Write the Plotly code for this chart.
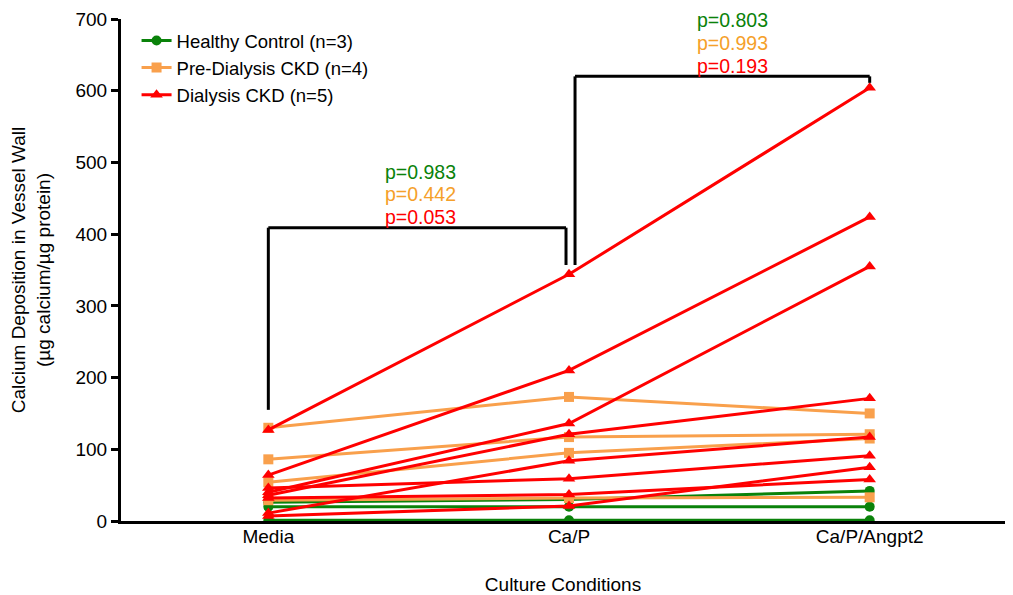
import plotly.graph_objects as go

conditions = ["Media", "Ca/P", "Ca/P/Angpt2"]
x_pos = [0, 1, 2]

healthy = [[1, 1, 1], [20, 20, 20], [26, 30, 42]]
predialysis = [[130, 173, 150], [86, 117, 121], [54, 95, 115], [29, 32, 33]]
dialysis = [[127, 344, 604], [64, 210, 424], [40, 136, 355], [36, 121, 171],
            [11, 84, 117], [46, 59, 91], [7, 21, 75], [32, 37, 58]]

groups = [
    ("Healthy Control (n=3)", healthy, "#0a820a", "circle", 10),
    ("Pre-Dialysis CKD (n=4)", predialysis, "#f9a04c", "square", 10),
    ("Dialysis CKD (n=5)", dialysis, "#ff0000", "triangle-up", 11),
]

pvals_1 = ["p=0.983", "p=0.442", "p=0.053"]
pvals_2 = ["p=0.803", "p=0.993", "p=0.193"]
pcolors = ["#0a820a", "#f5a02a", "#ff0000"]

FONT = "Liberation Sans, Arial, Helvetica, sans-serif"

fig = go.Figure()
for name, series, color, sym, msize in groups:
    for i, vals in enumerate(series):
        fig.add_trace(go.Scatter(
            x=x_pos, y=vals, mode="lines+markers", name=name,
            legendgroup=name, showlegend=(i == 0),
            line=dict(color=color, width=3),
            marker=dict(color=color, symbol=sym, size=msize),
        ))

# significance brackets
line_style = dict(color="black", width=3)
fig.add_shape(type="line", x0=0, x1=0, y0=155, y1=409, xref="x", yref="y", line=line_style)
fig.add_shape(type="line", x0=0, x1=0.99, y0=409, y1=409, xref="x", yref="y", line=line_style)
fig.add_shape(type="line", x0=0.99, x1=0.99, y0=409, y1=357, xref="x", yref="y", line=line_style)
fig.add_shape(type="line", x0=1.02, x1=1.02, y0=357, y1=620, xref="x", yref="y", line=line_style)
fig.add_shape(type="line", x0=1.02, x1=2, y0=620, y1=620, xref="x", yref="y", line=line_style)
fig.add_shape(type="line", x0=2, x1=2, y0=620, y1=611, xref="x", yref="y", line=line_style)

for txt, col, yv in zip(pvals_1, pcolors, [487, 456, 424]):
    fig.add_annotation(x=0.505, y=yv, xref="x", yref="y", text=txt, showarrow=False,
                       font=dict(family=FONT, size=19.5, color=col))
for txt, col, yv in zip(pvals_2, pcolors, [699, 667, 635]):
    fig.add_annotation(x=1.545, y=yv, xref="x", yref="y", text=txt, showarrow=False,
                       font=dict(family=FONT, size=19.5, color=col))

# The page body has an 8px margin; the figure is sized to fit the 1013x595 window.
fig.update_layout(
    width=1005, height=587,
    margin=dict(l=113, r=8, t=11, b=74),
    paper_bgcolor="white", plot_bgcolor="white",
    font=dict(family=FONT, size=19, color="black"),
    legend=dict(x=0.0176, y=0.994, xanchor="left", yanchor="top",
                bgcolor="rgba(0,0,0,0)", font=dict(size=18.5), tracegroupgap=0),
    xaxis=dict(range=[-0.49, 2.45], tickvals=x_pos, ticktext=conditions,
               showline=True, linecolor="black", linewidth=3, showgrid=False,
               zeroline=False, ticks="", ticklen=0, automargin=False,
               tickfont=dict(size=19), ticklabelstandoff=-4,
               title=dict(text="Culture Conditions", standoff=34, font=dict(size=19))),
    yaxis=dict(range=[0, 700], tickvals=[0, 100, 200, 300, 400, 500, 600, 700],
               showline=True, linecolor="black", linewidth=3, showgrid=False,
               zeroline=False, ticks="outside", ticklen=7, tickwidth=3, tickcolor="black",
               automargin=False, tickfont=dict(size=19),
               title=dict(text="Calcium Deposition in Vessel Wall<br>(µg calcium/µg protein)",
                          standoff=25, font=dict(size=19))),
)

fig.write_html("out.html")
